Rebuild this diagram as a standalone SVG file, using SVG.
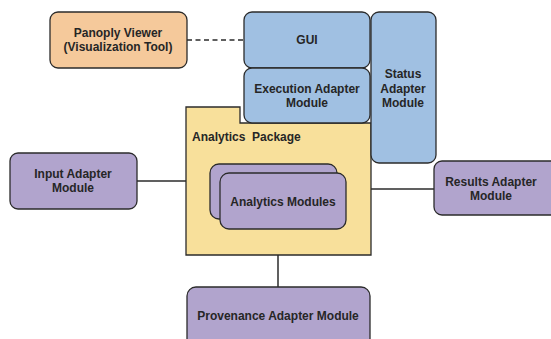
<svg xmlns="http://www.w3.org/2000/svg" width="551" height="339" viewBox="0 0 551 339">
  <style>
    .box { stroke: #2b2b2b; stroke-width: 1.3; }
    .orange { fill: #F5C99B; }
    .blue { fill: #A0C0E2; }
    .purple { fill: #B1A4CD; }
    .yellow { fill: #F8E09B; }
    .lbl { font-family: "Liberation Sans", Arial, sans-serif; font-weight: bold; font-size: 12px; fill: #262626; text-anchor: middle; }
    .left { text-anchor: start; white-space: pre; }
    .conn { stroke: #2b2b2b; stroke-width: 1.5; fill: none; }
  </style>
  <rect width="551" height="339" fill="#ffffff"/>

  <g id="connectors">
    <line class="conn" x1="187" y1="40" x2="245" y2="40" stroke-dasharray="5,3.5"/>
    <line class="conn" x1="137" y1="181" x2="187" y2="181"/>
    <line class="conn" x1="371" y1="189" x2="434" y2="189"/>
    <line class="conn" x1="278" y1="255" x2="278" y2="287" stroke-width="1.2"/>
  </g>

  <g id="analytics-package">
    <path class="box yellow" d="M186,107 H240 V123 H371 V255 H186 Z"/>
    <text class="lbl left" x="192" y="141" xml:space="preserve">Analytics  Package</text>
  </g>

  <g id="analytics-modules">
    <rect class="box purple" x="210" y="164" width="127" height="55" rx="9"/>
    <rect class="box purple" x="220" y="173" width="126" height="56" rx="9"/>
    <text class="lbl" x="283" y="206">Analytics Modules</text>
  </g>

  <g id="panoply-viewer">
    <rect class="box orange" x="50" y="12" width="137" height="56" rx="8"/>
    <text class="lbl" x="118" y="37">Panoply Viewer</text>
    <text class="lbl" x="118" y="51">(Visualization Tool)</text>
  </g>

  <g id="gui">
    <rect class="box blue" x="244" y="12" width="126" height="56" rx="8"/>
    <text class="lbl" x="307" y="44">GUI</text>
  </g>

  <g id="execution-adapter">
    <rect class="box blue" x="244" y="68" width="126" height="55" rx="8"/>
    <text class="lbl" x="307" y="93">Execution Adapter</text>
    <text class="lbl" x="307" y="107">Module</text>
  </g>

  <g id="status-adapter">
    <rect class="box blue" x="371" y="12" width="65" height="151" rx="8"/>
    <text class="lbl" x="403" y="78">Status</text>
    <text class="lbl" x="403" y="93">Adapter</text>
    <text class="lbl" x="403" y="107">Module</text>
  </g>

  <g id="input-adapter">
    <rect class="box purple" x="10" y="153" width="127" height="56" rx="8"/>
    <text class="lbl" x="73" y="178">Input Adapter</text>
    <text class="lbl" x="73" y="192">Module</text>
  </g>

  <g id="results-adapter">
    <rect class="box purple" x="434" y="161" width="125" height="54" rx="8"/>
    <text class="lbl" x="491" y="186">Results Adapter</text>
    <text class="lbl" x="491" y="200">Module</text>
  </g>

  <g id="provenance-adapter">
    <rect class="box purple" x="187" y="287" width="183" height="62" rx="9"/>
    <text class="lbl" x="278" y="320">Provenance Adapter Module</text>
  </g>
</svg>
